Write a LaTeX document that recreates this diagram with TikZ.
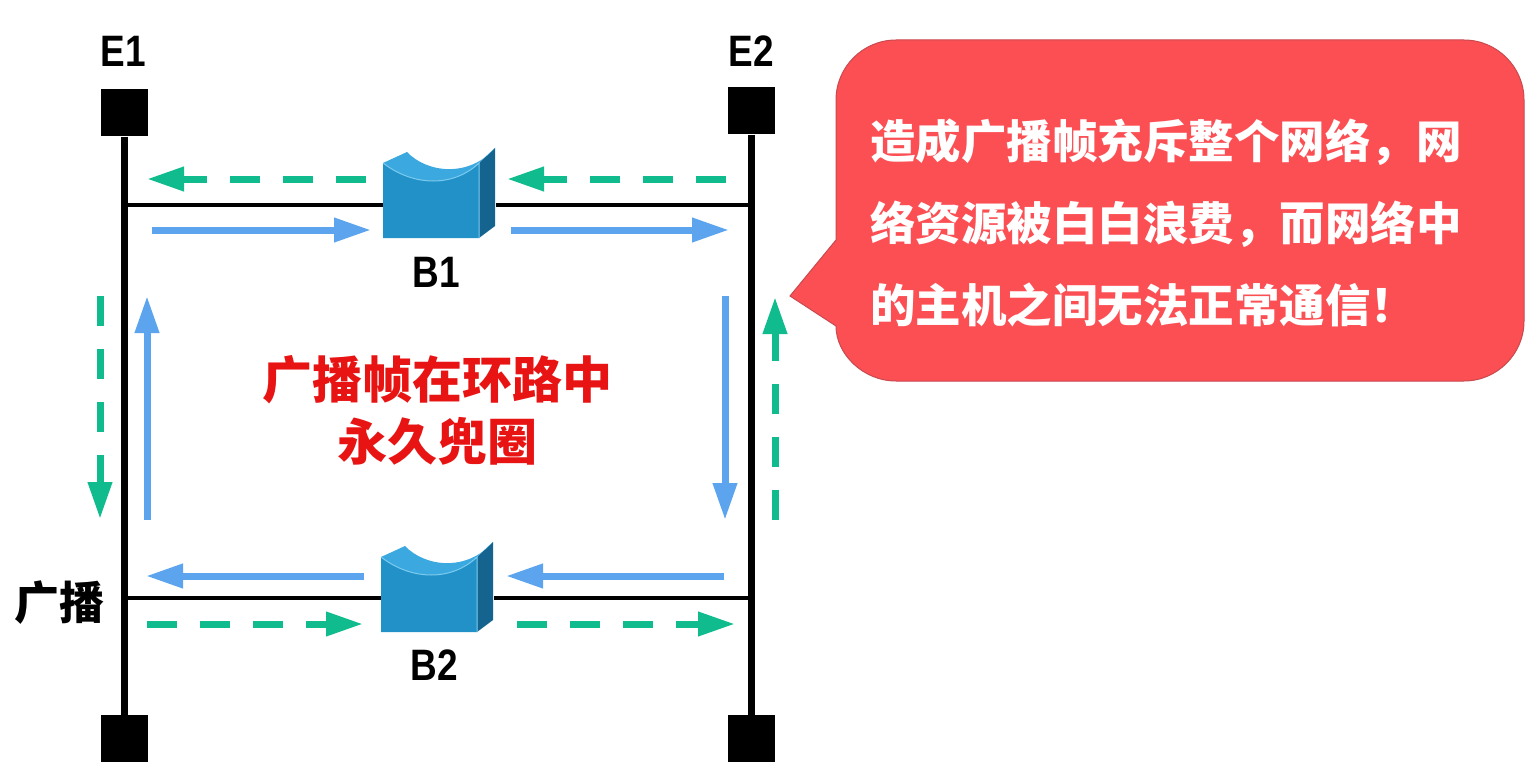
\documentclass[tikz,border=0pt]{standalone}
\usepackage{fontspec}
\setmainfont{Liberation Sans}
\newfontfamily\cjk{Noto Sans CJK SC}
\usetikzlibrary{arrows.meta}
\definecolor{flowgreen}{HTML}{10BC8E}
\definecolor{flowblue}{HTML}{5CA5EE}
\definecolor{callred}{HTML}{FC4F54}
\definecolor{calledge}{HTML}{C8494E}
\definecolor{titlered}{HTML}{E81414}
\definecolor{brfront}{HTML}{2191C8}
\definecolor{brtop}{HTML}{3BA9E0}
\definecolor{brside}{HTML}{14648F}
\definecolor{brlight}{HTML}{7CCBEE}
\tikzset{
  term/.style={fill=black,draw=none,minimum width=47pt,minimum height=47pt,inner sep=0pt},
  bus/.style={line width=7pt,black},
  link/.style={line width=4.5pt,black},
  bridgeanchor/.style={minimum width=113pt,minimum height=0pt,inner sep=0pt,outer sep=0pt},
  lat/.style={font=\bfseries\fontsize{44}{44}\selectfont,xscale=.84,transform shape,inner sep=0pt},
  bluearrow/.style={line width=7pt,flowblue,-{Triangle[length=37pt,width=23pt]}},
  greenarrow/.style={line width=7pt,flowgreen,dash pattern=on 30pt off 23pt,-{Triangle[length=37pt,width=23pt]}},
  bridgepic/.pic={
    \fill[brside] (40,-42) -- (56,-57) -- (56,21) -- (40,33) -- cycle;
    \fill[brtop] (-56,-42) -- (-32,-53) .. controls (-12,-32) and (30,-27) .. (56,-57) -- (40,-42) -- (40,-15) -- (-56,-15) -- cycle;
    \fill[brfront] (-56,-42) .. controls (-25,-18) and (15,-18) .. (40,-42) -- (40,33) -- (-56,33) -- cycle;
    \draw[brlight,line width=1pt] (-56,-42) .. controls (-25,-18) and (15,-18) .. (40,-42) -- (40,33);
  }
}
\begin{document}
\begin{tikzpicture}[x=1pt,y=-1pt]
\useasboundingbox (0,0) rectangle (1526,781);
\fill[white] (0,0) rectangle (1526,781);
% terminals
\node[term] (E1) at (124,113) {};
\node[term] (E2) at (751.5,111) {};
\node[term] (E3) at (124,738.5) {};
\node[term] (E4) at (751.5,738.5) {};
% buses
\draw[bus] (E1) -- (E3);
\draw[bus] (E2) -- (E4);
% bridges
\node[bridgeanchor] (B1) at (439.5,205) {};
\node[bridgeanchor] (B2) at (437.5,598) {};
\draw[link] (E1 |- B1) -- (B1.west);
\draw[link] (B1.east) -- (E2 |- B1);
\draw[link] (E3 |- B2) -- (B2.west);
\draw[link] (B2.east) -- (E4 |- B2);
\pic at (439,205) {bridgepic};
\pic at (437,599) {bridgepic};
% labels
\node[lat] (lE1) at (123,51) {E1};
\node[lat] (lE2) at (751,51) {E2};
\node[lat] (lB1) at (436,272) {B1};
\node[lat] (lB2) at (434,665) {B2};
\node[font=\cjk\bfseries\fontsize{45}{45}\selectfont,inner sep=0pt] (lcast) at (59,603) {广播};
\node[font=\cjk\bfseries\fontsize{50}{62}\selectfont,text=titlered,align=center,inner sep=0pt] (title) at (437,410) {广播帧在环路中\\永久兜圈};
% flows
\foreach \n/\sx/\sy/\ex/\ey/\st in {
  a/366/179/147/179/greenarrow,
  b/726/179/507/179/greenarrow,
  c/152/230/371/230/bluearrow,
  d/511/230/729/230/bluearrow,
  e/100/296/100/519/greenarrow,
  f/147/520/147/296/bluearrow,
  g/725/296/725/520/bluearrow,
  h/775/520/775/297/greenarrow,
  i/364/576/146/576/bluearrow,
  j/724/576/506/576/bluearrow,
  k/147/624/363/624/greenarrow,
  l/517/624/735/624/greenarrow}{
  \coordinate (s\n) at (\sx,\sy);
  \coordinate (t\n) at (\ex,\ey);
  \draw[\st] (s\n) -- (t\n);
}
% callout
\draw[fill=callred,draw=calledge,line width=1pt]
  (836,100) .. controls (836,67) and (863,40) .. (896,40) -- (1464,40)
  .. controls (1497,40) and (1524,67) .. (1524,100) -- (1524,321)
  .. controls (1524,354) and (1497,381) .. (1464,381) -- (896,381)
  .. controls (863,381) and (836,354) .. (836,326) -- (790,296) -- (836,240) -- cycle;
\node[font=\cjk\bfseries\fontsize{45.5}{82}\selectfont,text=white,align=left,anchor=west,inner sep=0pt] (calltext) at (870,223) {造成广播帧充斥整个网络，网\\络资源被白白浪费，而网络中\\的主机之间无法正常通信！};
\end{tikzpicture}
\end{document}
